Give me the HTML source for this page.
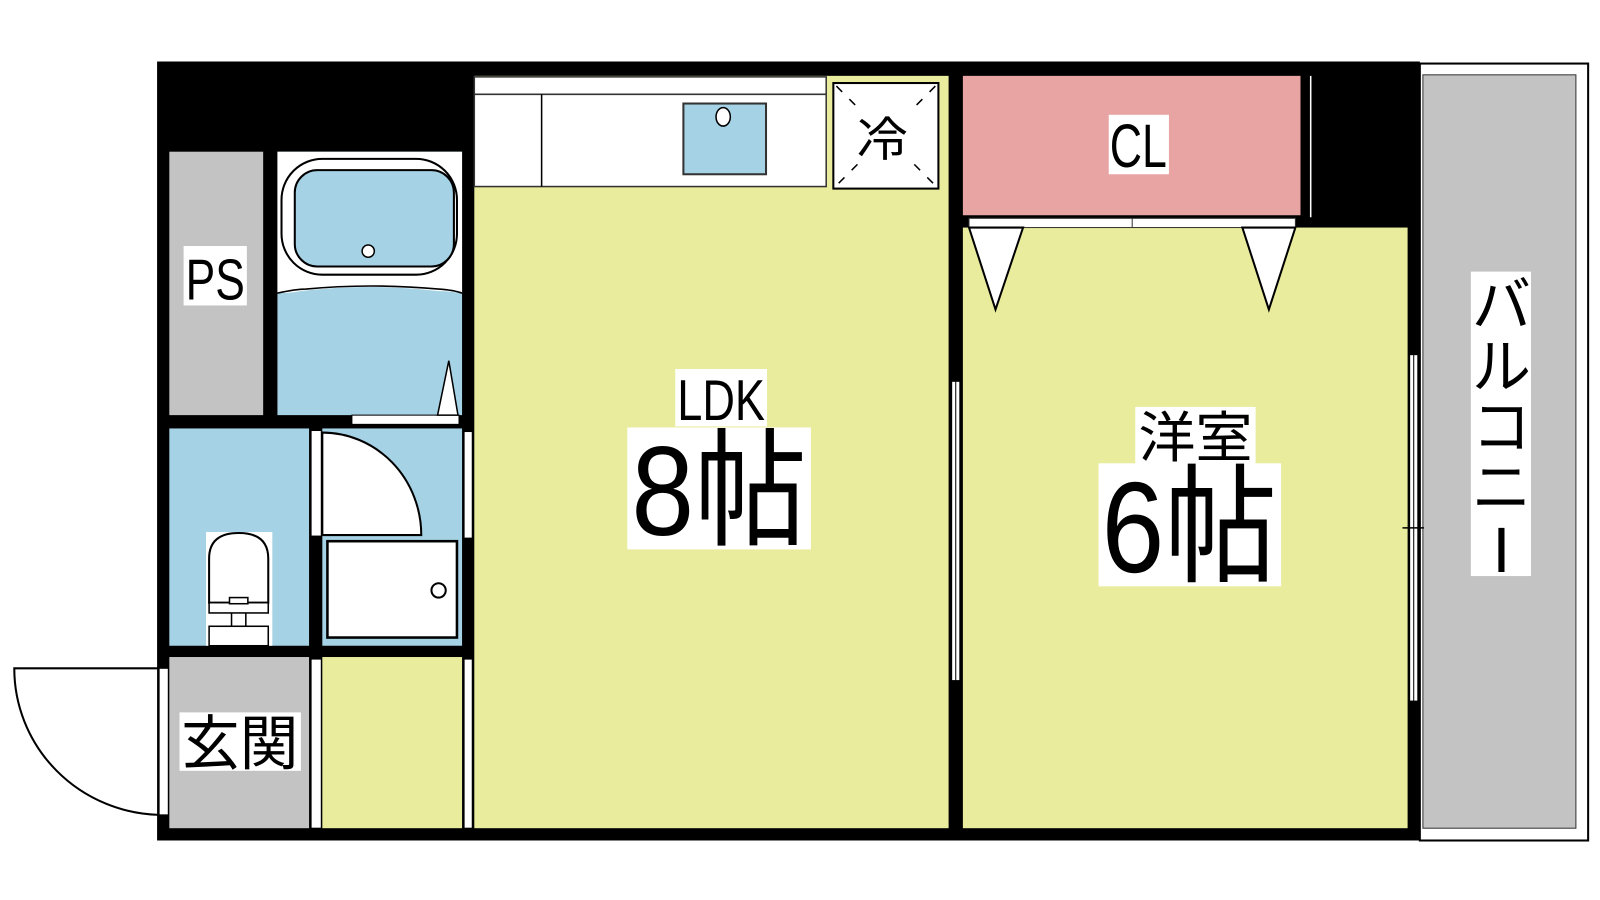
<!DOCTYPE html>
<html><head><meta charset="utf-8"><style>html,body{margin:0;padding:0;background:#fff}svg{display:block}</style></head>
<body>
<svg width="1600" height="900" viewBox="0 0 1600 900" xmlns="http://www.w3.org/2000/svg" font-family="'Liberation Sans','Noto Sans CJK JP',sans-serif">
<g transform="scale(1.02,1.025)">
<!-- balcony -->
<rect x="1392" y="62" width="165" height="758" fill="#fff" stroke="#000" stroke-width="2"/>
<rect x="1395" y="73" width="150" height="735" fill="#c3c3c3" stroke="#333" stroke-width="1"/>
<!-- outer black -->
<rect x="154" y="60" width="1238" height="760" fill="#000"/>
<!-- PS -->
<rect x="166" y="148" width="92" height="257" fill="#c3c3c3"/>
<!-- bath -->
<rect x="272" y="148" width="181" height="257" fill="#a6d2e6"/>
<path d="M272 148 H453 V286 Q440 284 430 284 Q362 276 295 284 Q285 286 272 286 Z" fill="#fff"/>
<rect x="276" y="155" width="172" height="113" rx="40" fill="#fff" stroke="#000" stroke-width="2"/>
<rect x="289" y="166" width="156" height="94" rx="22" fill="#a6d2e6" stroke="#000" stroke-width="2"/>
<circle cx="361" cy="245" r="6" fill="#fff" stroke="#000" stroke-width="1.5"/>
<path d="M272 286 Q290 282 300 282 Q362 276 430 282 Q445 283 453 286" fill="none" stroke="#000" stroke-width="1.5"/>
<rect x="345" y="405" width="105" height="9" fill="#fff" stroke="#000" stroke-width="1"/>
<polygon points="429,405 449,405 440,352" fill="#fff" stroke="#000" stroke-width="1.5"/>
<!-- toilet room -->
<rect x="166" y="418" width="137" height="212" fill="#a6d2e6"/>
<rect x="202" y="519" width="65" height="111" fill="#fff"/>
<path d="M205 588 V545 Q205 520 234 520 Q263 520 263 545 V588 Z" fill="#fff" stroke="#000" stroke-width="2"/>
<rect x="205" y="588" width="58" height="10" fill="#fff" stroke="#000" stroke-width="1.5"/>
<rect x="225" y="583" width="18" height="6" fill="#fff" stroke="#000" stroke-width="1.5"/>
<rect x="205" y="611" width="58" height="19" fill="#fff" stroke="#000" stroke-width="1.5"/>
<line x1="227" y1="598" x2="227" y2="611" stroke="#000" stroke-width="1.5"/><line x1="241" y1="598" x2="241" y2="611" stroke="#000" stroke-width="1.5"/>
<!-- wash room -->
<rect x="316" y="418" width="137" height="212" fill="#a6d2e6"/>
<path d="M316 422 A97 100 0 0 1 413 522 H316 Z" fill="#fff" stroke="#000" stroke-width="2"/>
<rect x="321" y="528" width="127" height="94" fill="#fff" stroke="#000" stroke-width="2.5"/>
<circle cx="430" cy="576" r="7" fill="#fff" stroke="#000" stroke-width="2"/>
<rect x="305" y="420" width="10" height="103" fill="#fff" stroke="#000" stroke-width="1"/>
<rect x="455" y="421" width="8" height="104" fill="#fff" stroke="#000" stroke-width="1"/>
<!-- genkan -->
<rect x="166" y="641" width="137" height="167" fill="#c3c3c3"/>
<rect x="316" y="641" width="137" height="167" fill="#e9ec9c"/>
<rect x="305" y="643" width="10" height="165" fill="#fff" stroke="#000" stroke-width="1"/>
<rect x="455" y="643" width="8" height="165" fill="#fff" stroke="#000" stroke-width="1"/>
<rect x="156" y="652" width="9" height="143" fill="#fff" stroke="#000" stroke-width="1"/>
<path d="M156 652 H14 A146 143 0 0 0 156 795" fill="none" stroke="#000" stroke-width="2"/>
<!-- LDK -->
<rect x="465" y="74" width="465" height="734" fill="#e9ec9c"/>
<rect x="465" y="75" width="345" height="107" fill="#fff" stroke="#333" stroke-width="1.5"/>
<line x1="465" y1="92" x2="810" y2="92" stroke="#333" stroke-width="1.5"/>
<line x1="531" y1="92" x2="531" y2="182" stroke="#000" stroke-width="1.5"/>
<rect x="670" y="101" width="81" height="69" fill="#a6d2e6" stroke="#333" stroke-width="2"/>
<ellipse cx="709" cy="114" rx="7" ry="9" fill="#fff" stroke="#000" stroke-width="1.5"/>
<rect x="817" y="81" width="103" height="103" fill="#fff" stroke="#000" stroke-width="2"/>
<line x1="820" y1="84" x2="917" y2="181" stroke="#000" stroke-width="1.5" stroke-dasharray="8 10"/>
<line x1="917" y1="84" x2="820" y2="181" stroke="#000" stroke-width="1.5" stroke-dasharray="8 10"/>
<rect x="835" y="105" width="60" height="55" fill="#fff"/>
<text x="865" y="152" font-size="46" text-anchor="middle" textLength="50" lengthAdjust="spacingAndGlyphs">冷</text>
<rect x="933" y="372" width="8" height="292" fill="#fff" stroke="#000" stroke-width="1"/>
<line x1="937" y1="372" x2="937" y2="664" stroke="#000" stroke-width="1"/>
<!-- western -->
<rect x="944" y="222" width="436" height="586" fill="#e9ec9c"/>
<rect x="944" y="74" width="331" height="136" fill="#e8a3a3"/>
<line x1="1285" y1="74" x2="1285" y2="212" stroke="#fff" stroke-width="1.5"/>
<rect x="950" y="213" width="320" height="9" fill="#fff" stroke="#333" stroke-width="1"/>
<line x1="1110" y1="213" x2="1110" y2="222" stroke="#333" stroke-width="1"/>
<polygon points="950,222 1003,222 976,302" fill="#fff" stroke="#000" stroke-width="2"/>
<polygon points="1218,222 1270,222 1244,302" fill="#fff" stroke="#000" stroke-width="2"/>
<rect x="1382" y="346" width="8" height="338" fill="#fff" stroke="#000" stroke-width="1"/>
<line x1="1386" y1="346" x2="1386" y2="684" stroke="#000" stroke-width="1"/>
<line x1="1375" y1="515" x2="1396" y2="515" stroke="#000" stroke-width="1.5"/>
<!-- labels -->
<rect x="180" y="240" width="62" height="58" fill="#fff"/>
<text x="211" y="292" font-size="56" text-anchor="middle" textLength="58" lengthAdjust="spacingAndGlyphs">PS</text>
<rect x="1087" y="112" width="59" height="58" fill="#fff"/>
<text x="1116" y="163" font-size="60" text-anchor="middle" textLength="56" lengthAdjust="spacingAndGlyphs">CL</text>
<rect x="176" y="695" width="119" height="57" fill="#fff"/>
<text x="235" y="746" font-size="58" text-anchor="middle" textLength="115" lengthAdjust="spacingAndGlyphs">玄関</text>
<rect x="662" y="360" width="90" height="56" fill="#fff"/>
<text x="707" y="410" font-size="56" text-anchor="middle" textLength="86" lengthAdjust="spacingAndGlyphs">LDK</text>
<rect x="615" y="417" width="180" height="119" fill="#fff"/>
<text x="705" y="522" font-size="124" text-anchor="middle" textLength="172" lengthAdjust="spacingAndGlyphs">8帖</text>
<rect x="1113" y="397" width="118" height="56" fill="#fff"/>
<text x="1172" y="446" font-size="54" text-anchor="middle" textLength="112" lengthAdjust="spacingAndGlyphs">洋室</text>
<rect x="1077" y="452" width="179" height="120" fill="#fff"/>
<text x="1166" y="558" font-size="126" text-anchor="middle" textLength="172" lengthAdjust="spacingAndGlyphs">6帖</text>
<rect x="1442" y="265" width="59" height="297" fill="#fff"/>
<text x="1472" y="318" font-size="58" text-anchor="middle">バ</text>
<text x="1472" y="378" font-size="58" text-anchor="middle">ル</text>
<text x="1472" y="437" font-size="58" text-anchor="middle">コ</text>
<text x="1472" y="496" font-size="58" text-anchor="middle">ニ</text>
<line x1="1472" y1="515" x2="1472" y2="558" stroke="#000" stroke-width="6"/>
</g>
</svg>
</body></html>
